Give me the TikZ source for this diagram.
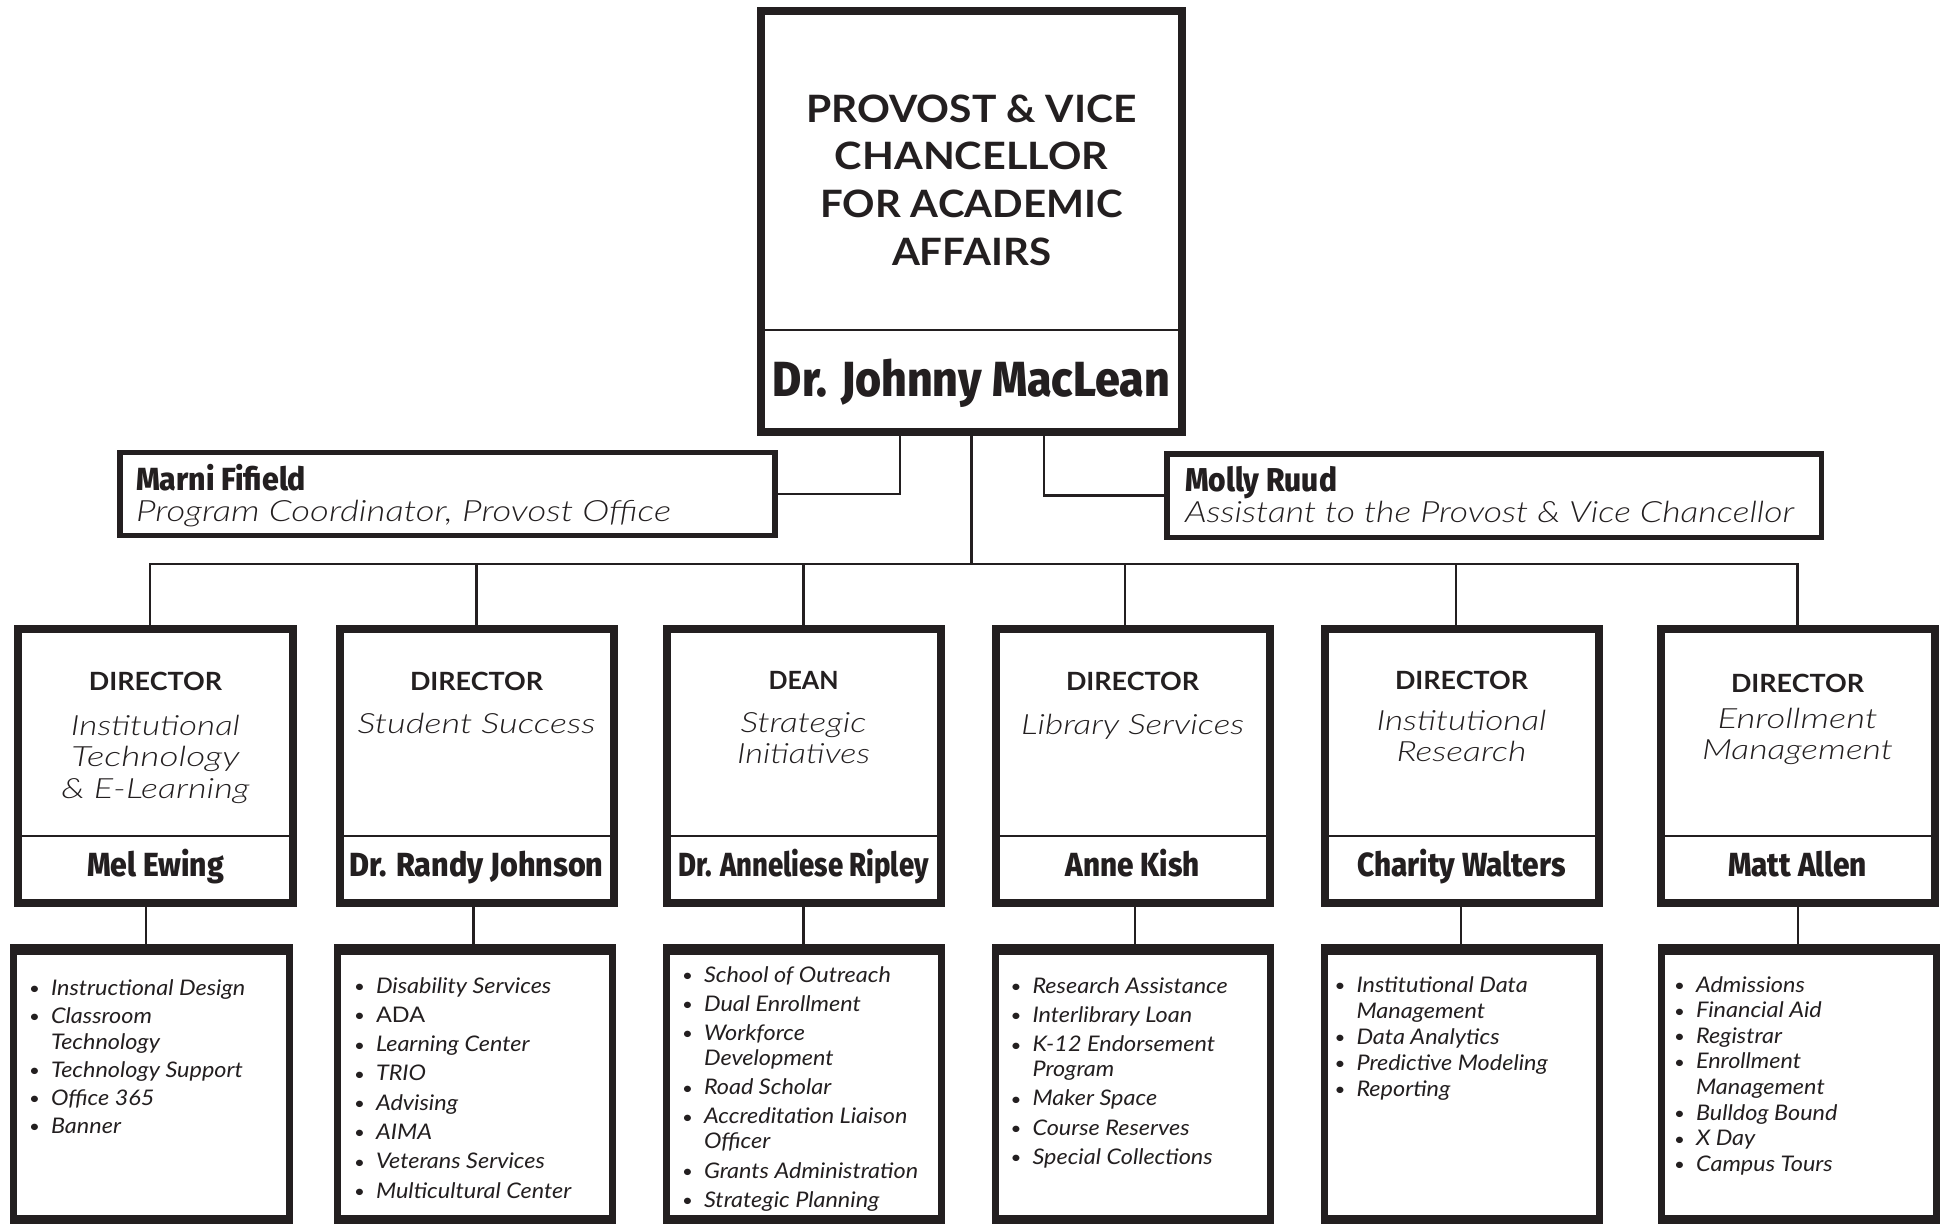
\documentclass[tikz,border=0pt]{standalone}
\usepackage{fontspec}
\usepackage{graphicx}
\usetikzlibrary{calc}
\setmainfont{Lato}
\newfontfamily\namef{Fira Sans}
\newfontfamily\listf{Lato}[FakeStretch=1.09]
\newcommand\itf{\itshape}
\IfFontExistsTF{Lato Light Italic}{\newfontfamily\ltit{Lato Light Italic}\renewcommand\itf{\ltit}}{}
\newcommand\nmf{\namef\bfseries}
\IfFontExistsTF{Fira Sans ExtraBold}{\newfontfamily\fxb{Fira Sans ExtraBold}\renewcommand\nmf{\fxb}}{}
\definecolor{ink}{RGB}{35,31,32}
\newcommand\fw[2]{\resizebox{#1bp}{\height}{#2}}
\newcommand\fs[2]{\fontsize{#1bp}{#2bp}\selectfont}
\newcommand\bu{\leavevmode\llap{\makebox[33bp]{\raisebox{0.6bp}{\scalebox{0.8}{\upshape\textbullet}}}}}
\newcommand\cu{\leavevmode}
\newcommand\lst{\listf\itshape}

\begin{document}
\begin{tikzpicture}[x=1bp,y=-1bp,
  every node/.style={inner sep=0pt, outer sep=0pt, text=ink},
  topbox/.style={draw=ink, line width=8bp, minimum width=421bp, minimum height=421bp},
  dirbox/.style={draw=ink, line width=8bp, minimum width=274bp, minimum height=274bp},
  infobox/.style={draw=ink, line width=5.5bp, minimum width=655bp, minimum height=83bp},
  listbox/.style={fill=ink, minimum width=282bp, minimum height=290bp},
  conn/.style={draw=ink, line width=2.4bp},
  divider/.style={draw=ink, line width=2.7bp}]

\fill[white] (0,0) rectangle (1946,1223);
\useasboundingbox (0,0) rectangle (1946,1223);

% ---------- top box ----------
\node[topbox] (P) at (971.5,221.5) {};
\draw[divider] (P.west |- 0,330) -- (P.east |- 0,330);
\node[anchor=base] (Ptitle) at (971.5,122) {\parbox[t]{420bp}{\centering\bfseries\fs{37.7}{47.7}%
  \fw{330}{PROVOST \& VICE}\\\fw{273}{CHANCELLOR}\\\fw{302}{FOR ACADEMIC}\\\fw{159}{AFFAIRS}}};
\node[anchor=base, font=\nmf\fs{49.3}{50}] (Pname) at (971.5,396) {\fw{397}{Dr. Johnny MacLean}};

% ---------- assistants ----------
\node[infobox] (marni) at (447.5,494) {};
\node[anchor=base west, font=\nmf\fs{32}{33}] (marni-n) at (136,490) {\fw{170}{Marni Fifield}};
\node[anchor=base west, font=\itf\fs{29.3}{30}] (marni-r) at (136,521) {\fw{535}{Program Coordinator, Provost Office}};

\node[infobox, minimum width=654.5bp, minimum height=83.5bp] (molly) at (1494,495.5) {};
\node[anchor=base west, font=\nmf\fs{33}{34}] (molly-n) at (1185,491) {\fw{152}{Molly Ruud}};
\node[anchor=base west, font=\itf\fs{29.3}{30}] (molly-r) at (1185,522) {\fw{609}{Assistant to the Provost \& Vice Chancellor}};

\draw[conn] (marni.east) -| ($(P.south)+(-71.5,0)$);
\draw[conn] ($(P.south)+(72.5,0)$) |- (molly.west);

% ---------- directors ----------
\newcommand\dirunit[9]{%
  \node[dirbox] (#1) at (#2,766) {};
  \draw[divider] (#1.west |- 0,836) -- (#1.east |- 0,836);
  \node[anchor=base, font=\bfseries\fs{25.1}{26}] (#1-t) at (#2,#9) {\fw{#4}{#3}};
  \node[anchor=base] (#1-s) at (#2,#6) {\parbox[t]{270bp}{\centering\itf\fs{27.9}{31.5}#5}};
  \node[anchor=base, font=\nmf\fs{33.4}{34}] (#1-n) at (#2,876) {\fw{#8}{#7}};
}
\dirunit{d1}{155.5}{DIRECTOR}{133}{\fw{169}{Institutional}\\\fw{168}{Technology}\\\fw{188}{\& E-Learning}}{735}{Mel Ewing}{137}{690}
\dirunit{d2}{476.5}{DIRECTOR}{133}{\fw{238}{Student Success}}{733}{Dr. Randy Johnson}{254}{690}
\dirunit{d3}{803.5}{DEAN}{70}{\fw{126}{Strategic}\\\fw{133}{Initiatives}}{732}{Dr. Anneliese Ripley}{250}{689}
\dirunit{d4}{1132.5}{DIRECTOR}{133}{\fw{223}{Library Services}}{734}{Anne Kish}{134}{690}
\dirunit{d5}{1461.5}{DIRECTOR}{133}{\fw{170}{Institutional}\\\fw{130}{Research}}{730}{Charity Walters}{208}{689}
\dirunit{d6}{1797.5}{DIRECTOR}{133}{\fw{160}{Enrollment}\\\fw{191}{Management}}{728}{Matt Allen}{139}{692}

% bus
\coordinate (bus) at (971.5,564);
\draw[conn] (P.south) -- (bus);
\coordinate (b1) at ($(d1.north)+(-5.5,0)$);
\coordinate (b2) at (d2.north);
\coordinate (b3) at (d3.north);
\coordinate (b4) at ($(d4.north)+(-7.5,0)$);
\coordinate (b5) at ($(d5.north)+(-5.5,0)$);
\coordinate (b6) at (d6.north);
\foreach \i in {1,...,6} {\draw[conn] (bus) -| (b\i);}

% ---------- lists ----------
\newcommand\listbox[2]{%
  \node[listbox] (#1) at (#2,1089) {};
  \fill[white] ($(#1.north west)+(7,11)$) rectangle ($(#1.north east)+(-7,271)$);
}
\listbox{l1}{151.5}
\listbox{l2}{475}
\listbox{l3}{803.5}
\listbox{l4}{1133}
\listbox{l5}{1462}
\listbox{l6}{1799}

\coordinate (e1) at ($(l1.north)+(-5.5,0)$);
\coordinate (e2) at ($(l2.north)+(-1.5,0)$);
\coordinate (e3) at (l3.north);
\coordinate (e4) at ($(l4.north)+(2,0)$);
\coordinate (e5) at ($(l5.north)+(-1,0)$);
\coordinate (e6) at ($(l6.north)+(-1,0)$);
\foreach \i in {1,...,6} {\draw[conn] (e\i) -- (e\i |- d\i.south);}

\node[anchor=base west] (t1) at (51,995) {\parbox[t]{240bp}{\raggedright\lst\fs{21.5}{28}%
\bu Instructional Design\\
\bu Classroom\\[-2bp]
\cu Technology\\
\bu Technology Support\\
\bu Office 365\\
\bu Banner}};

\node[anchor=base west] (t2) at (376,993) {\parbox[t]{240bp}{\raggedright\lst\fs{21.5}{29.3}%
\bu Disability Services\\
\bu {\upshape ADA}\\
\bu Learning Center\\
\bu TRIO\\
\bu Advising\\
\bu AIMA\\
\bu Veterans Services\\
\bu Multicultural Center}};

\node[anchor=base west] (t3) at (704,982) {\parbox[t]{240bp}{\raggedright\lst\fs{21.5}{29.2}%
\bu School of Outreach\\
\bu Dual Enrollment\\
\bu Workforce\\[-4.2bp]
\cu Development\\
\bu Road Scholar\\
\bu Accreditation Liaison\\[-4.2bp]
\cu Officer\\
\bu Grants Administration\\
\bu Strategic Planning}};

\node[anchor=base west] (t4) at (1032.5,993) {\parbox[t]{240bp}{\raggedright\lst\fs{21.5}{29.3}%
\bu Research Assistance\\
\bu Interlibrary Loan\\
\bu K-12 Endorsement\\[-4.3bp]
\cu Program\\
\bu Maker Space\\
\bu Course Reserves\\
\bu Special Collections}};

\node[anchor=base west] (t5) at (1356.5,992) {\parbox[t]{240bp}{\raggedright\lst\fs{21.5}{26}%
\bu Institutional Data\\
\cu Management\\
\bu Data Analytics\\
\bu Predictive Modeling\\
\bu Reporting}};

\node[anchor=base west] (t6) at (1696,992) {\parbox[t]{240bp}{\raggedright\lst\fs{21.5}{25.6}%
\bu Admissions\\
\bu Financial Aid\\
\bu Registrar\\
\bu Enrollment\\
\cu Management\\
\bu Bulldog Bound\\
\bu X Day\\
\bu Campus Tours}};

\end{tikzpicture}
\end{document}
